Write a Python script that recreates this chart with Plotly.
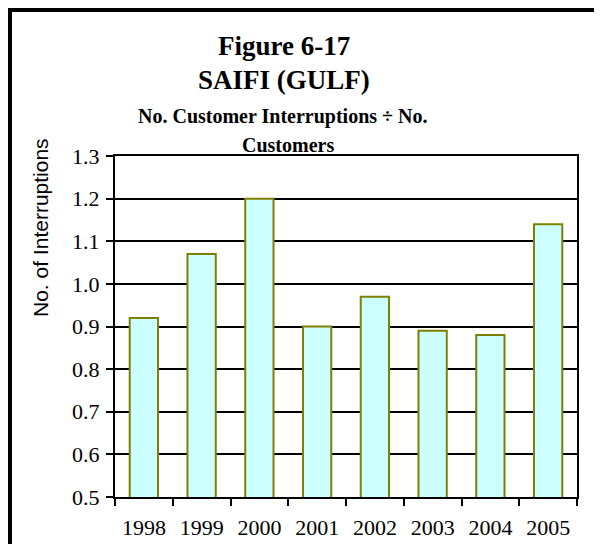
import plotly.graph_objects as go

years = ["1998", "1999", "2000", "2001", "2002", "2003", "2004", "2005"]
saifi = [0.92, 1.07, 1.20, 0.90, 0.97, 0.89, 0.88, 1.14]
y_ticks = [0.5, 0.6, 0.7, 0.8, 0.9, 1.0, 1.1, 1.2, 1.3]
y_tick_text = ["0.5", "0.6", "0.7", "0.8", "0.9", "1.0", "1.1", "1.2", "1.3"]

OFF = 8  # default page body margin
W, H = 602 - 2 * OFF, 560 - 2 * OFF - 8
L, T = 115 - OFF, 156 - OFF
R = W - (577 - OFF)
B = H - (497 - OFF)
pw, ph = W - L - R, H - T - B

def px(x):
    # page pixel x -> paper coordinate
    return (x - OFF - L) / pw

def py(y):
    return (H - B - (y - OFF)) / ph

fig = go.Figure()
fig.add_trace(go.Bar(
    x=years, y=saifi, base=0,
    marker=dict(color="#CCFFFF", line=dict(color="#808000", width=2)),
    width=0.49,
))

serif = "Liberation Serif, Times New Roman, serif"
fig.update_layout(
    width=W, height=H,
    margin=dict(l=L, r=R, t=T, b=B, autoexpand=False),
    paper_bgcolor="white", plot_bgcolor="white",
    showlegend=False,
    xaxis=dict(
        type="category", tickson="boundaries", ticks="outside", ticklen=7,
        tickwidth=2, tickcolor="black", showline=True, linecolor="black",
        linewidth=2, mirror=True, showgrid=False,
        tickfont=dict(family=serif, size=22, color="black"),
        ticklabelstandoff=10,
    ),
    yaxis=dict(
        range=[0.5, 1.3], tickvals=y_ticks, ticktext=y_tick_text,
        ticks="outside", ticklen=7, tickwidth=2, tickcolor="black",
        showline=True, linecolor="black", linewidth=2, mirror=True,
        showgrid=True, gridcolor="black", gridwidth=1.5, zeroline=False,
        tickfont=dict(family=serif, size=22, color="black"),
        ticklabelstandoff=2,
    ),
    bargap=0.51,
)

anns = [
    ("Figure 6-17", 284, 46, 27),
    ("SAIFI (GULF)", 284, 80, 27),
    ("No. Customer Interruptions ÷ No.", 283, 116.5, 20),
    ("Customers", 288, 144.5, 20),
]
for text, x, y, s in anns:
    fig.add_annotation(
        text="<b>" + text + "</b>", x=px(x), y=py(y), xref="paper", yref="paper",
        xanchor="center", yanchor="middle", showarrow=False,
        font=dict(family=serif, size=s, color="black"),
    )

fig.add_annotation(
    text="No. of Interruptions", x=px(40), y=py(228), xref="paper", yref="paper",
    xanchor="center", yanchor="middle", showarrow=False, textangle=-90,
    font=dict(family="Liberation Sans, Arial, sans-serif", size=21, color="black"),
)

# outer frame: top and left edges, kept strictly inside the figure
fig.add_shape(type="line", xref="paper", yref="paper",
              x0=px(OFF), y0=py(10), x1=px(OFF + W), y1=py(10),
              line=dict(color="black", width=4), layer="above")
fig.add_shape(type="line", xref="paper", yref="paper",
              x0=px(10), y0=py(OFF), x1=px(10), y1=py(OFF + H),
              line=dict(color="black", width=4), layer="above")

fig.write_html("out.html")
